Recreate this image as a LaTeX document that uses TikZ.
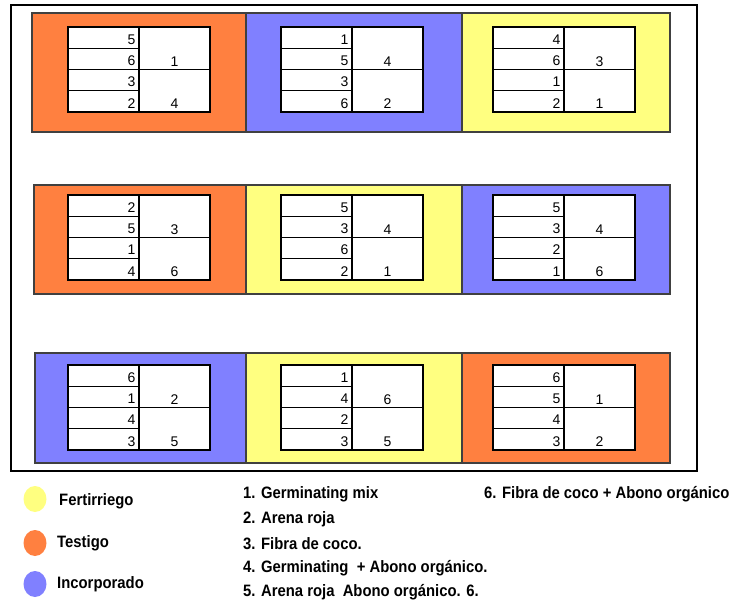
\documentclass[tikz,border=0pt]{standalone}
\usepackage{fontspec}
\setmainfont{Liberation Sans}
\newfontfamily\legendfont[FakeStretch=0.9]{Liberation Sans}
\usetikzlibrary{shapes.geometric}

\definecolor{testigo}{RGB}{255,128,64}
\definecolor{incorp}{RGB}{128,128,255}
\definecolor{fertir}{RGB}{255,255,128}
\definecolor{borde}{RGB}{64,64,64}

% one plot: table of four sub-plots (left) and two halves (right)
% #1 name prefix, #2 top-left corner, #3-#6 left column, #7 #8 right column
\newcommand\parcela[8]{%
  \begin{scope}[shift={(#2)}]
    \fill[white] (0,0) rectangle (142,85);
    \draw[tabla] (0,21.25) -- (71,21.25) (0,63.75) -- (71,63.75)
                 (0,42.5) -- (142,42.5) (71,0) -- (71,85);
    \draw[tabla] (0,0) rectangle (142,85);
    \node[num, anchor=east] (#1a) at (67.5,12.6) {#3};
    \node[num, anchor=east] (#1b) at (67.5,33.8) {#4};
    \node[num, anchor=east] (#1c) at (67.5,55.1) {#5};
    \node[num, anchor=east] (#1d) at (67.5,76.4) {#6};
    \node[num] (#1e) at (106.5,34.3) {#7};
    \node[num] (#1f) at (106.5,76.9) {#8};
  \end{scope}}

\begin{document}
\begin{tikzpicture}[x=1pt,y=-1pt,
  bloque/.style={draw=borde, line width=1.3pt},
  tabla/.style={draw=black, line width=1.2pt},
  num/.style={inner sep=0pt, font=\fontsize{14}{16}\selectfont},
  marco/.style={draw=black, line width=2pt},
  punto/.style={ellipse, draw=none, minimum width=23pt, minimum height=26pt, inner sep=0pt},
  leyenda/.style={anchor=west, inner sep=0pt, font=\legendfont\bfseries\fontsize{16.5}{18}\selectfont}]
\useasboundingbox (0,0) rectangle (736,605);

% outer frame
\draw[marco] (11,5) rectangle (697,471);

% first row of blocks
\draw[bloque, fill=testigo] (32,13) rectangle (246,132);
\draw[bloque, fill=incorp]  (246,13) rectangle (462,132);
\draw[bloque, fill=fertir]  (462,13) rectangle (670,132);
\parcela{p11}{68,27}{5}{6}{3}{2}{1}{4}
\parcela{p12}{281,27}{1}{5}{3}{6}{4}{2}
\parcela{p13}{493,27}{4}{6}{1}{2}{3}{1}

% second row of blocks
\draw[bloque, fill=testigo] (34,185) rectangle (246,294);
\draw[bloque, fill=fertir]  (246,185) rectangle (462,294);
\draw[bloque, fill=incorp]  (462,185) rectangle (670,294);
\parcela{p21}{68,195}{2}{5}{1}{4}{3}{6}
\parcela{p22}{281,195}{5}{3}{6}{2}{4}{1}
\parcela{p23}{493,195}{5}{3}{2}{1}{4}{6}

% third row of blocks
\draw[bloque, fill=incorp]  (35,353) rectangle (246,463);
\draw[bloque, fill=fertir]  (246,353) rectangle (462,463);
\draw[bloque, fill=testigo] (462,353) rectangle (670,463);
\parcela{p31}{68,365}{6}{1}{4}{3}{2}{5}
\parcela{p32}{281,365}{1}{4}{2}{3}{6}{5}
\parcela{p33}{493,365}{6}{5}{4}{3}{1}{2}

% colour key
\node[punto, fill=fertir]  (kf) at (35,499) {};
\node[punto, fill=testigo] (kt) at (35,543) {};
\node[punto, fill=incorp]  (ki) at (35,584) {};
\node[leyenda] (lf) at (59,501) {Fertirriego};
\node[leyenda] (lt) at (57,543) {Testigo};
\node[leyenda] (li) at (57,584) {Incorporado};

% substrate key
\node[leyenda] (s1) at (243,494) {1. Germinating mix};
\node[leyenda] (s2) at (243,519) {2. Arena roja};
\node[leyenda] (s3) at (243,544) {3. Fibra de coco.};
\node[leyenda] (s4) at (243,568) {4. Germinating\ \ + Abono orgánico.};
\node[leyenda] (s5) at (243,592) {5. Arena roja\ \ Abono orgánico. 6.};
\node[leyenda] (s6) at (484,494) {6. Fibra de coco + Abono orgánico};
\end{tikzpicture}
\end{document}
